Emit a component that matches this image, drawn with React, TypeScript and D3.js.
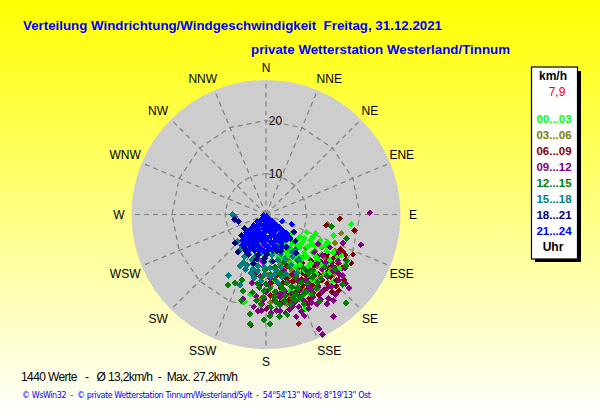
import * as d3 from "d3";

// wind points: [km/h towards east, km/h towards north]
type Pt = [number, number];

const directions = ["N", "NNE", "NE", "ENE", "E", "ESE", "SE", "SSE", "S", "SSW", "SW", "WSW", "W", "WNW", "NW", "NNW"];
const rings = [10, 20];

const h00: Pt[] = [[18.1,-2.1],[14.3,-4.5],[10.6,-4],[8.7,-3.8],[5.7,-3.8],[7.2,-4.7],[10,-4.7],[11.5,-5.5],[9.4,-5.5],[7.9,-5.7],[6.4,-6.2],[4.3,-5.5],[3.6,-4.7],[5.1,-7.2],[7.2,-7],[8.9,-6.8],[10.4,-6.6],[8.1,-8.1],[9.8,-8.1],[6.4,-8.1],[4.5,-8.7],[6.2,-9.4],[7.7,-9.4],[3.6,-7.7],[2.6,-8.9],[12.6,-6.6],[15.3,-9.1],[17.4,-10],[14.3,-8.1],[15.7,-11.5],[14,-14.5],[9.8,-14],[11.5,-13.6],[8.3,-20],[-3.4,-17],[-4.5,-18.5],[5.1,-16.2],[6.8,-12.3],[1.9,-14],[12.8,-10.6],[11,-9.8],[9,-11],[13.4,-12.4],[4.9,-4.3],[6.8,-5.2],[8.1,-4.9],[9.7,-6.3],[11.6,-6.9],[12.9,-7.8],[7.4,-6.4],[5.6,-6.1],[3.9,-6.6],[4.8,-8],[6.9,-8.7],[8.7,-9],[10.6,-9],[11.8,-8.4],[13.5,-9.7],[3.2,-9.3],[5.3,-10.3],[7.1,-10.6],[9.4,-10.4],[11.7,-10.7],[2.2,-6.5],[1.4,-7.8],[13.1,-5.9],[16,-8.6],[8.2,-12],[10.7,-12.6],[6.1,-11.2],[4.2,-12.5],[12.6,-12.8],[7.4,-14.5],[3,-16.7],[9.3,-16.9]];
const h03: Pt[] = [[16,-4],[13,-2.1],[14.7,-6],[14.7,-7.7],[11.9,-7],[10.4,-7.7],[8.5,-7.2],[6.8,-10],[4.9,-9.8],[3,-10.6],[1.1,-10],[9.4,-9.6],[12.3,-9],[10.9,-11],[7.7,-11.5],[5.5,-12],[2.8,-12.6],[0.4,-12.8],[13.6,-11.7],[8.7,-13.2],[6,-14.2],[3.4,-14.9],[1,-15.3],[11,-14],[13.2,-14.5],[8,-16],[5.2,-17.2],[2.4,-17.4],[7.9,-16.4],[-1,-17.9],[0.9,-18.7],[4.5,-19],[14.6,-12.6],[10,-12.3],[3.8,-16],[6.2,-8.5],[8,-9.2],[11.3,-6.2],[7.1,-6.9],[4.1,-11.3],[2,-11.6],[9.1,-12.1],[12.2,-12.7],[5,-13.2],[1.9,-14.2],[6.9,-15.3],[10.1,-15.2],[3.5,-18],[-0.3,-16.2],[4.4,-7.9]];
const h06: Pt[] = [[15.7,-0.9],[12.8,-2.3],[18.9,-3.4],[18.5,-8.5],[18.1,-10.4],[16.4,-7.9],[14.9,-8.3],[12.8,-8.5],[11,-8.9],[9.6,-9.8],[7.7,-10.3],[15.4,-10.4],[13.9,-10.2],[12.3,-11.3],[10.4,-12.4],[8.5,-12.9],[6.4,-13],[4.3,-13.6],[2.3,-13],[15.7,-12.8],[13.8,-13.2],[11.9,-14],[9.8,-14.9],[7.7,-15.1],[5.5,-15.5],[3.2,-15.6],[16.6,-14],[14.9,-15.3],[12.3,-16],[10,-16.6],[7.2,-17.4],[4.9,-18.1],[16.2,-11.4],[7,-23.2],[0.2,-20],[-1.5,-14.9],[-3.2,-23.6],[8.9,-19],[13,-11],[17,-9.6],[6.6,-11.5],[4.5,-11],[16.9,-8.6],[15.8,-7.4],[14.4,-9.2],[13.3,-9.5],[11.7,-10],[10.3,-10.8],[9,-11.5],[14.7,-11.4],[13.2,-12.2],[11.2,-12.7],[9.4,-13.8],[7.6,-13.8],[5.6,-14.3],[3.6,-14.5],[1.4,-14.3],[15,-14],[13,-14.7],[11,-15.4],[8.8,-16],[6.5,-16.4],[4.1,-17],[2.1,-16.5],[0.9,-17.2],[14,-16.5],[11.2,-17.1],[9.2,-17.8],[6.1,-18.5],[2.8,-18.9],[7.9,-12.4],[5.6,-12.7],[3.4,-12.3],[15.5,-16.2]];
const h09: Pt[] = [[22.1,0.4],[20.2,-6.4],[16.8,-11.3],[17.7,-15.6],[14.3,-18.3],[14.3,-21.7],[11.3,-24.3],[12,-25.5],[8.1,-21.5],[6.4,-21.7],[3,-20.5],[-4.9,-17.9],[-1,-20.4],[15.5,-8.1],[16.4,-6],[15.3,-9.8],[14.2,-12],[13,-13.2],[11.9,-11.7],[10.2,-13],[8.5,-14],[6.8,-14.2],[4.7,-14.3],[2.6,-14.6],[0.6,-14.9],[-1.3,-15],[-2,-12.4],[14,-15.3],[12,-16.4],[10,-17.5],[8,-18.4],[6,-18.7],[3.8,-18.7],[1.8,-18.2],[-0.4,-17.9],[15.5,-14],[13,-19],[10.9,-19],[9,-20],[7,-19.6],[5,-20.2],[2.2,-20.4],[0.4,-19.8],[-2.6,-19.6],[12,-8.7],[10.3,-8],[13.6,-7],[11.1,-6.3],[9.5,-16],[4,-16.4],[-1.7,-20.6],[0,-16.4],[14.8,-17],[13.3,-17.8],[11.6,-18],[9.7,-18.7],[7.5,-20.6],[4.2,-21],[1.1,-21],[-0.8,-19],[-2.1,-17.4],[-3,-14.6],[-1.2,-13.2],[0.9,-13.6],[3,-16.9],[5.4,-16.8],[7.3,-16.1],[9,-15],[11.1,-15.2],[13.1,-15.6],[15.2,-12.4],[14.1,-10.9],[12.7,-10.2],[10.8,-10.5],[8.4,-11.8],[6,-12.5],[3.9,-12],[16.3,-13],[16.9,-14.6],[5.7,-19.6],[7.5,-17.7],[3,-17.6]];
const h12: Pt[] = [[13.9,-2.6],[17.2,-5.1],[17,-11],[16.2,-14.9],[17.2,-9.8],[17,-18.8],[4.5,-21.3],[2.8,-21.7],[0.9,-21.6],[-0.4,-22.4],[0.9,-23.3],[-3.4,-21.1],[-3.4,-23.3],[-8.1,-15],[-6.6,-14.5],[-5.1,-13.9],[-4.9,-16.3],[-5.3,-18.3],[-2.6,-13.1],[-1,-13.4],[1,-12.8],[3,-12.4],[-1.4,-15.6],[0.8,-15.8],[3,-15.1],[5.4,-15.3],[7.6,-14.5],[9.8,-13.4],[11.7,-13.6],[-0.6,-17.6],[1.7,-17.6],[4.2,-17.2],[6.3,-17],[8.5,-16.4],[10.7,-15.7],[3,-19.3],[5.2,-19.1],[7,-18],[1,-19.7],[-2,-18.3],[5,-11],[8,-11.4],[12.5,-11.2],[14.6,-11.6],[11.3,-18.5],[-2.9,-16.6],[-0.3,-11.8],[1.9,-11.1],[4,-12.8],[6.2,-13.4],[9,-12.5],[10.9,-14.5],[12.9,-12.9],[0,-14.7],[2,-13.9],[4.5,-14.6],[6.7,-15.7],[8.9,-14.7],[-1.9,-14.7],[-0.4,-16.3],[1.9,-16.5],[3.7,-15.9],[5.6,-17.9],[7.7,-17.2],[9.7,-16.9],[2.1,-18.6],[4,-18.4],[6.1,-18.2],[-1.1,-19.1],[8.1,-19.1],[3.9,-10.1],[6.7,-9.7],[10,-11.8]];
const h15: Pt[] = [[-7.1,0],[-6.6,-0.6],[-8,-13],[-5.5,-11],[-4.3,-11.7],[-3.2,-12.5],[-6.1,-5.7],[-5.2,-7.2],[-4.6,-8.9],[-4.8,-10.2],[-3.5,-7.2],[-2.3,-8.9],[-1,-8.1],[-2.8,-10.5],[-0.6,-10.2],[1.3,-8.7],[3.2,-8.5],[0.9,-11.4],[3.2,-11.2],[5.3,-10.7],[4.6,-7],[6.3,-7.5],[-1.8,-12],[1.8,-12.8],[4.3,-12.6],[6.6,-12.4],[-5.5,-15],[-1,-14.1],[2.5,-14.4],[-4.3,-5.6],[-3,-6],[-1.8,-5.9],[0.4,-6.7],[7,-9.4],[-2.5,-13.5],[-3.9,-8.2],[-3,-9.6],[-1.6,-9.5],[-0.2,-9.1],[1.2,-9.9],[2.5,-9.7],[4.1,-9.4],[5.6,-9],[-1.7,-11],[-0.4,-11.2],[-2.8,-11.6],[-4,-10.8],[-2.3,-7.4],[-1,-6.8],[1.6,-7.2],[3,-7],[-3.1,-4.6],[-4.8,-4.9],[-5.3,-6.6],[-0.3,-12.7],[0.9,-13.2],[3.4,-13.4],[5.5,-8],[-3.9,-6.9],[2.2,-11.9]];
const h18: Pt[] = [[-6.7,-1.1],[-4.5,-5.9],[-6.6,-6],[-6,-8],[-2.8,-7.2],[-0.9,-7.4],[-3.8,-8.5],[-1.7,-8.7],[0.3,-8.4],[2.3,-7.8],[4.2,-6.9],[-2.9,-4.9],[-1,-5.5],[1.1,-5.9],[3.2,-5.4],[5.2,-5.2],[6.4,-8.2],[-0.6,-10],[1.5,-10],[-2.6,-10.4],[5.9,-3.7],[-5.9,-1.5],[-3.8,-3.8],[-4.6,-3],[-2.3,-3.2],[-3.5,-6.3],[-4.7,-6.9],[-2.1,-6.1],[-0.3,-6.5],[1.9,-6.8],[3.4,-6.6],[-1.5,-7.7],[0.7,-7.4],[3.2,-7.7],[-5.2,-4.4],[-3.6,-5.1],[-0.4,-4.6],[2.2,-4.8],[4.3,-4.5],[6.2,-5.7],[-2,-9.5],[-0.3,-9.3],[-4.3,-7.8],[-1.4,-4],[1,-3.6],[3.1,-3.3],[-3,-2.9]];
const h21: Pt[] = [[-0.6,-0.2],[0.6,-0.9],[-0.9,-1],[1.3,-1.3],[-1.8,-1.5],[0,-1.8],[2,-2],[-0.8,-2.4],[1.2,-2.6],[-2.6,-2.3],[2.8,-2.6],[-3.4,-3.2],[-1.5,-3.2],[0.3,-3.2],[2.1,-3.4],[3.6,-3.4],[-4.2,-3.8],[-2.6,-3.9],[-0.8,-4],[1.1,-4],[3,-4.2],[4.4,-4],[-4.4,-4.8],[-3.2,-5],[-1.5,-5],[0.3,-5],[2.1,-5],[3.8,-5.1],[5,-4.8],[-4.2,-6],[-2.5,-6],[-0.6,-6],[1.3,-6],[3.2,-6.1],[-3.2,-6.8],[-1.4,-7],[0.6,-7],[2.3,-6.9],[-2.4,-7.7],[-0.4,-7.8],[3.5,-1.4],[-5,-5.5],[5.5,-2.1],[0.2,-0.4],[-0.2,-1.1],[0.9,-1.6],[-1.3,-2],[0.2,-2.5],[1.9,-2.8],[-2,-2.8],[-0.6,-3],[1,-3.3],[-3.1,-3.7],[-2,-4.4],[-0.2,-3.7],[1.6,-4.4],[3.5,-4.6],[-3.7,-4.4],[-0.9,-4.6],[0.9,-4.7],[2.8,-5.5],[4.3,-5.4],[-1.9,-5.5],[-3.4,-5.6],[0,-5.5],[1.9,-5.6],[-2.1,-6.5],[-0.1,-6.5],[1.8,-6.5],[-1.1,-7.5],[1.4,-7.6],[3.4,-7],[-4.9,-6.5],[-3.6,-7.6]];
const hExtra: Pt[] = [[-0.8,-7.1],[1.5,-6.2],[-0.7,-10]];
const lastValue: Pt[] = [[2.8,-5.6]];

const legendColours = ["#00ff00", "#808000", "#800000", "#800080", "#008000", "#008080", "#000080", "#0000ff"];
const legendLabels = ["00...03", "03...06", "06...09", "09...12", "12...15", "15...18", "18...21", "21...24"];
const hourSeries = [h00, h03, h06, h09, h12, h15, h18, h21];
// lime has to stay visible above olive and maroon
const underOrder = [1, 2, 0, 3, 4, 5];
const overOrder = [6, 7];

const cx = 266;
const cy = 214.5;
const R = 134.5;
const sans = "'Liberation Sans', Arial, sans-serif";

// points scale: about 4.7 px per km/h, same both ways
const xScale = d3.scaleLinear().domain([-28.6, 28.6]).range([cx - R, cx + R]);
const yScale = d3.scaleLinear().domain([-28.6, 28.6]).range([cy + R, cy - R]);
const ringScale = d3.scaleLinear().domain([0, 10, 20]).range([0, 41, 94]);
const angle = d3.scaleLinear().domain([0, directions.length]).range([0, 2 * Math.PI]);

const marker = d3.symbol().type(d3.symbolDiamond2).size(30)() as string;
const legendY = d3.scaleLinear().domain([0, 7]).range([123, 234.5]);

function ringPath(v: number) {
  const line = d3.lineRadial<string>()
    .angle((_, i) => angle(i))
    .radius(() => ringScale(v))
    .curve(d3.curveLinearClosed);
  return line(directions) as string;
}

function Points({ data, fill }: { data: Pt[]; fill: string }) {
  return (
    <g fill={fill} shapeRendering="crispEdges">
      {data.map((d, i) => (
        <path key={i} d={marker} transform={`translate(${xScale(d[0])},${yScale(d[1])})`} />
      ))}
    </g>
  );
}

// compass labels do not sit on a clean circle in the original
function labelX(i: number) {
  const s = Math.sin(angle(i));
  const side = Math.sign(Math.round(s * 100));
  let nudge = 0;
  if (i % 8 === 1 || i % 8 === 7) nudge = side * 7;
  if (side < 0 && (i % 8 === 2 || i % 8 === 6)) nudge = -4;
  if (side < 0 && (i % 8 === 3 || i % 8 === 5)) nudge = -5;
  return cx + 147 * s + nudge;
}

function labelY(i: number) {
  const c = Math.cos(angle(i));
  const nudge = i % 8 === 3 || i % 8 === 5 ? (c > 0 ? -4 : 3) : 0;
  return cy - 147 * c + 4.5 + nudge;
}

export default function App() {
  return (
    <svg width={600} height={415} style={{ position: "absolute", left: 0, top: 0 }} fontFamily={sans}>
      <defs>
        <linearGradient id="bg" x1="0" y1="0" x2="0" y2="1">
          <stop offset="0" stopColor="#ffff00" />
          <stop offset="1" stopColor="#ffffff" />
        </linearGradient>
        <pattern id="dither" width={4} height={4} patternUnits="userSpaceOnUse">
          <rect width={4} height={4} fill="#cccccc" />
          <rect width={1} height={1} fill="#d6d6d6" />
          <rect x={2} y={2} width={1} height={1} fill="#d6d6d6" />
        </pattern>
      </defs>
      <rect width={600} height={415} fill="url(#bg)" />

      <text x={23} y={30} fontSize={13.3} fontWeight="bold" fill="#0000ff" textLength={419} xmlSpace="preserve">
        Verteilung Windrichtung/Windgeschwindigkeit  Freitag, 31.12.2021
      </text>
      <text x={251} y={54} fontSize={13.3} fontWeight="bold" fill="#0000ff" textLength={259}>
        private Wetterstation Westerland/Tinnum
      </text>

      <circle cx={cx} cy={cy} r={R} fill="url(#dither)" />

      <g transform={`translate(${cx},${cy})`} fill="none" stroke="#808080" strokeWidth={1.2} strokeDasharray="5 4">
        {directions.map((d, i) => (
          <line key={d} x1={0} y1={0} x2={R * Math.sin(angle(i))} y2={-R * Math.cos(angle(i))} />
        ))}
        {rings.map((v) => (
          <path key={v} d={ringPath(v)} />
        ))}
      </g>

      {rings.map((v) => (
        <text key={v} x={cx + 9.5} y={cy - ringScale(v) + 4.5} fontSize={12} textAnchor="middle" fill="#000">
          {v}
        </text>
      ))}

      {directions.map((d, i) => (
        <text key={d} x={labelX(i)} y={labelY(i)} fontSize={12} textAnchor="middle" fill="#000">
          {d}
        </text>
      ))}

      {underOrder.map((k) => (
        <Points key={k} data={hourSeries[k]} fill={legendColours[k]} />
      ))}
      <Points data={hExtra} fill="#ff00ff" />
      <Points data={lastValue} fill="#ff0000" />
      {overOrder.map((k) => (
        <Points key={k} data={hourSeries[k]} fill={legendColours[k]} />
      ))}

      <rect x={535} y={71} width={46} height={191} fill="#000" />
      <rect x={531.5} y={67} width={46} height={192} fill="#fff" stroke="#000" strokeWidth={1.2} />
      <text x={553} y={80} fontSize={12} fontWeight="bold" textAnchor="middle" fill="#000">km/h</text>
      <text x={557} y={96} fontSize={12} textAnchor="middle" fill="#ff0000">7,9</text>
      {legendLabels.map((t, i) => (
        <text key={t} x={554} y={legendY(i)} fontSize={11.5} fontWeight="bold" textAnchor="middle" fill={legendColours[i]}>
          {t}
        </text>
      ))}
      <text x={553} y={251} fontSize={12} fontWeight="bold" textAnchor="middle" fill="#000">Uhr</text>

      <text x={21} y={381} fontSize={12} fill="#000" textLength={217} xmlSpace="preserve">
        1440 Werte   -   Ø 13,2km/h  -  Max. 27,2km/h
      </text>
      <text x={22} y={398} fontSize={8} fontFamily="'DejaVu Sans', sans-serif" fill="#0000ff" textLength={349} xmlSpace="preserve">
        © WsWin32  -  © private Wetterstation Tinnum/Westerland/Sylt  -  54°54'13'' Nord; 8°19'13'' Ost
      </text>
    </svg>
  );
}
